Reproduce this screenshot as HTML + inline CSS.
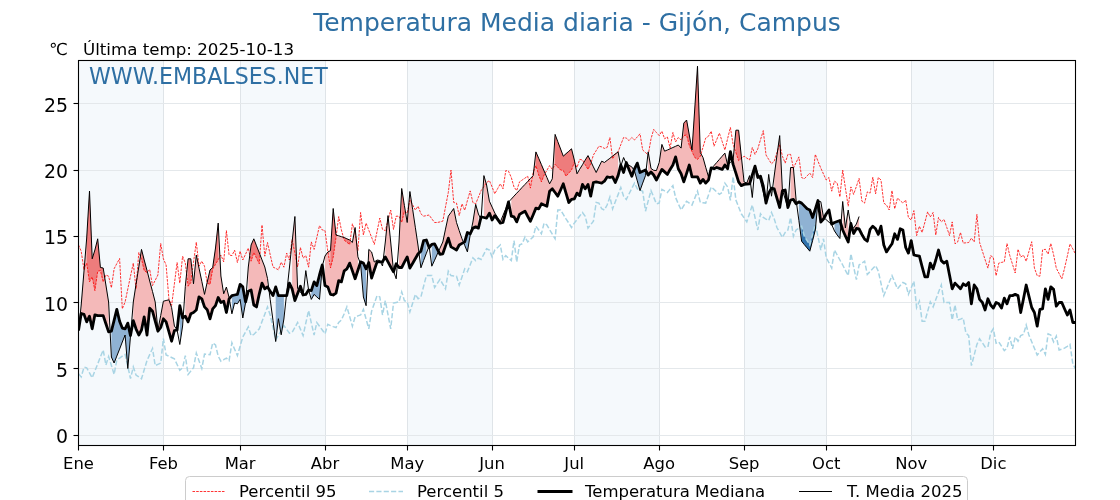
<!DOCTYPE html>
<html lang="es"><head><meta charset="utf-8"><title>Temperatura Media diaria - Gijón, Campus</title>
<style>html,body{margin:0;padding:0;background:#fff;overflow:hidden}body{width:1120px;height:500px}</style></head>
<body>
<svg width="1120" height="500" viewBox="0 0 1120 500" style="display:block;font-family:'DejaVu Sans','Liberation Sans',sans-serif">
<rect width="1120" height="500" fill="#fff"/>
<clipPath id="c"><rect x="78.5" y="60.5" width="997.0" height="385.0"/></clipPath>
<rect x="78.50" y="60.5" width="84.91" height="385.0" fill="#f5f9fc"/>
<rect x="240.10" y="60.5" width="84.91" height="385.0" fill="#f5f9fc"/>
<rect x="407.18" y="60.5" width="84.91" height="385.0" fill="#f5f9fc"/>
<rect x="574.26" y="60.5" width="84.91" height="385.0" fill="#f5f9fc"/>
<rect x="744.08" y="60.5" width="82.17" height="385.0" fill="#f5f9fc"/>
<rect x="911.16" y="60.5" width="82.17" height="385.0" fill="#f5f9fc"/>
<line x1="78.50" y1="60.5" x2="78.50" y2="445.5" stroke="#dfe4e8" stroke-width="1"/>
<line x1="163.50" y1="60.5" x2="163.50" y2="445.5" stroke="#dfe4e8" stroke-width="1"/>
<line x1="240.50" y1="60.5" x2="240.50" y2="445.5" stroke="#dfe4e8" stroke-width="1"/>
<line x1="325.50" y1="60.5" x2="325.50" y2="445.5" stroke="#dfe4e8" stroke-width="1"/>
<line x1="407.50" y1="60.5" x2="407.50" y2="445.5" stroke="#dfe4e8" stroke-width="1"/>
<line x1="492.50" y1="60.5" x2="492.50" y2="445.5" stroke="#dfe4e8" stroke-width="1"/>
<line x1="574.50" y1="60.5" x2="574.50" y2="445.5" stroke="#dfe4e8" stroke-width="1"/>
<line x1="659.50" y1="60.5" x2="659.50" y2="445.5" stroke="#dfe4e8" stroke-width="1"/>
<line x1="744.50" y1="60.5" x2="744.50" y2="445.5" stroke="#dfe4e8" stroke-width="1"/>
<line x1="826.50" y1="60.5" x2="826.50" y2="445.5" stroke="#dfe4e8" stroke-width="1"/>
<line x1="911.50" y1="60.5" x2="911.50" y2="445.5" stroke="#dfe4e8" stroke-width="1"/>
<line x1="993.50" y1="60.5" x2="993.50" y2="445.5" stroke="#dfe4e8" stroke-width="1"/>
<line x1="78.5" y1="435.50" x2="1075.5" y2="435.50" stroke="#e4e8eb" stroke-width="1"/>
<line x1="78.5" y1="368.50" x2="1075.5" y2="368.50" stroke="#e4e8eb" stroke-width="1"/>
<line x1="78.5" y1="302.50" x2="1075.5" y2="302.50" stroke="#e4e8eb" stroke-width="1"/>
<line x1="78.5" y1="236.50" x2="1075.5" y2="236.50" stroke="#e4e8eb" stroke-width="1"/>
<line x1="78.5" y1="170.50" x2="1075.5" y2="170.50" stroke="#e4e8eb" stroke-width="1"/>
<line x1="78.5" y1="103.50" x2="1075.5" y2="103.50" stroke="#e4e8eb" stroke-width="1"/>
<g clip-path="url(#c)">
<polygon points="81.2,305.0 84.0,271.0 86.7,238.0 89.5,191.0 92.2,258.8 94.9,250.0 97.7,238.8 100.4,267.5 103.2,268.0 105.9,285.0 108.6,302.0 108.6,331.9 105.9,323.8 103.2,315.6 100.4,315.6 97.7,315.6 94.9,314.8 92.2,328.8 89.5,316.2 86.7,321.9 84.0,314.4 81.2,313.5" fill="#f4b9b9"/>
<polygon points="133.3,302.0 136.0,284.5 138.8,266.9 141.5,249.4 144.2,259.9 147.0,270.4 149.7,281.0 152.5,291.5 155.2,302.0 157.9,330.0 160.7,315.6 163.4,301.2 166.1,300.5 168.9,299.8 171.6,307.5 174.4,326.0 174.4,330.6 171.6,341.2 168.9,331.6 166.1,321.9 163.4,318.8 160.7,327.5 157.9,331.2 155.2,321.2 152.5,311.2 149.7,308.1 147.0,335.0 144.2,316.9 141.5,330.0 138.8,335.0 136.0,328.8 133.3,320.6" fill="#f4b9b9"/>
<polygon points="185.3,286.5 188.1,258.8 190.8,258.8 193.5,283.8 196.3,255.0 199.0,268.1 201.8,281.3 204.5,294.4 207.2,282.2 210.0,270.0 212.7,267.5 215.5,248.0 218.2,223.1 220.9,276.0 223.7,293.8 226.4,287.0 229.1,297.5 229.1,298.8 226.4,312.5 223.7,301.2 220.9,302.5 218.2,297.5 215.5,305.6 212.7,308.8 210.0,318.8 207.2,309.7 204.5,306.9 201.8,298.8 199.0,296.9 196.3,310.0 193.5,312.5 190.8,313.8 188.1,321.9 185.3,316.2" fill="#f4b9b9"/>
<polygon points="248.3,267.0 251.1,245.0 253.8,238.8 256.5,245.8 259.3,252.9 262.0,259.9 264.8,267.0 267.5,278.5 267.5,286.9 264.8,288.8 262.0,283.1 259.3,293.8 256.5,306.9 253.8,305.0 251.1,290.0 248.3,291.2" fill="#f4b9b9"/>
<polygon points="292.1,242.0 294.9,216.5 297.6,288.5 297.6,293.4 294.9,300.6 292.1,288.8" fill="#f4b9b9"/>
<polygon points="325.0,256.0 327.8,252.0 330.5,250.6 333.2,208.5 336.0,235.0 338.7,235.8 341.4,236.7 344.2,237.5 346.9,238.8 349.7,240.0 352.4,242.5 355.1,227.5 357.9,256.8 357.9,270.3 355.1,278.8 352.4,270.9 349.7,263.1 346.9,268.8 344.2,270.9 341.4,281.9 338.7,280.6 336.0,293.1 333.2,295.0 330.5,294.4 327.8,286.9 325.0,285.6" fill="#f4b9b9"/>
<polygon points="368.8,249.4 371.6,252.0 374.3,262.0 377.1,260.0 379.8,260.5 379.8,261.9 377.1,261.9 374.3,270.0 371.6,278.1 368.8,262.5" fill="#f4b9b9"/>
<polygon points="385.3,242.0 388.0,215.6 390.7,242.0 393.5,271.0 393.5,271.9 390.7,266.9 388.0,261.9 385.3,256.9" fill="#f4b9b9"/>
<polygon points="399.0,242.0 401.7,188.5 404.4,205.5 407.2,222.5 409.9,191.5 412.7,209.7 415.4,227.8 418.1,246.0 418.1,253.8 415.4,258.5 412.7,263.3 409.9,268.1 407.2,256.9 404.4,262.2 401.7,267.5 399.0,267.5" fill="#f4b9b9"/>
<polygon points="440.0,248.1 442.8,242.0 445.5,229.1 448.3,216.2 451.0,212.4 453.7,208.5 456.5,222.5 459.2,230.6 462.0,238.8 462.0,243.4 459.2,245.0 456.5,250.0 453.7,248.4 451.0,246.9 448.3,238.1 445.5,245.9 442.8,253.8 440.0,254.4" fill="#f4b9b9"/>
<polygon points="472.9,222.0 475.7,204.4 478.4,214.0 478.4,228.1 475.7,226.9 472.9,228.1" fill="#f4b9b9"/>
<polygon points="483.9,175.6 486.6,185.0 489.4,201.2 492.1,207.1 494.8,213.0 497.6,217.5 500.3,222.0 503.0,215.3 505.8,208.7 505.8,212.2 503.0,222.5 500.3,223.1 497.6,219.4 494.8,215.6 492.1,220.0 489.4,213.1 486.6,218.1 483.9,217.5" fill="#f4b9b9"/>
<polygon points="511.3,199.1 514.0,196.1 516.7,193.2 519.5,190.3 522.2,187.3 525.0,184.4 527.7,181.5 530.4,178.5 533.2,175.6 535.9,151.9 538.7,158.3 541.4,164.6 544.1,171.0 546.9,177.4 549.6,183.8 552.3,178.8 555.1,134.4 557.8,141.7 560.6,149.0 563.3,156.2 566.0,153.7 568.8,151.3 571.5,148.8 574.3,160.0 577.0,173.8 579.7,169.2 582.5,164.7 585.2,160.1 588.0,155.6 590.7,161.2 593.4,166.9 596.2,172.5 598.9,166.9 601.7,161.2 604.4,162.5 607.1,160.4 609.9,158.3 612.6,156.1 615.3,154.0 618.1,151.9 618.1,175.6 615.3,182.5 612.6,176.9 609.9,177.5 607.1,176.9 604.4,181.2 601.7,183.1 598.9,182.5 596.2,181.9 593.4,182.5 590.7,196.2 588.0,184.4 585.2,188.8 582.5,184.4 579.7,195.6 577.0,193.1 574.3,198.8 571.5,199.4 568.8,202.5 566.0,193.1 563.3,183.8 560.6,190.0 557.8,196.2 555.1,192.5 552.3,188.8 549.6,191.2 546.9,206.2 544.1,205.0 541.4,203.8 538.7,208.8 535.9,208.1 533.2,214.7 530.4,221.2 527.7,216.3 525.0,211.2 522.2,212.8 519.5,214.4 516.7,221.9 514.0,216.9 511.3,216.2" fill="#f4b9b9"/>
<polygon points="629.0,165.3 631.8,166.9 631.8,176.2 629.0,169.4" fill="#f4b9b9"/>
<polygon points="648.2,151.9 651.0,168.5 653.7,170.3 656.4,170.6 659.2,162.5 661.9,144.4 664.6,151.2 667.4,150.0 670.1,148.8 672.9,147.5 675.6,146.3 678.3,145.0 681.1,148.1 683.8,123.1 686.6,120.0 689.3,135.0 692.0,150.0 694.8,108.0 697.5,66.2 700.3,152.5 703.0,157.5 705.7,167.2 708.5,176.9 708.5,180.0 705.7,183.1 703.0,179.4 700.3,183.1 697.5,176.9 694.8,176.9 692.0,176.9 689.3,165.0 686.6,173.4 683.8,181.9 681.1,173.8 678.3,168.8 675.6,156.9 672.9,165.0 670.1,169.4 667.4,174.4 664.6,171.9 661.9,169.4 659.2,174.7 656.4,180.0 653.7,175.0 651.0,172.0 648.2,175.0" fill="#f4b9b9"/>
<polygon points="714.0,165.6 716.7,162.5 719.4,159.4 722.2,156.2 724.9,153.1 727.6,165.0 727.6,168.8 724.9,165.0 722.2,169.4 719.4,168.4 716.7,167.5 714.0,168.8" fill="#f4b9b9"/>
<polygon points="733.1,160.0 735.9,130.2 738.6,130.2 741.3,156.1 744.1,182.0 746.8,183.0 749.6,175.6 749.6,183.8 746.8,184.1 744.1,184.4 741.3,185.6 738.6,181.9 735.9,173.1 733.1,164.4" fill="#f4b9b9"/>
<polygon points="755.0,166.0 757.8,173.5 757.8,177.5 755.0,166.2" fill="#f4b9b9"/>
<polygon points="774.2,176.0 776.9,155.8 779.7,135.6 782.4,190.0 782.4,190.6 779.7,207.5 776.9,198.1 774.2,188.8" fill="#f4b9b9"/>
<polygon points="790.6,167.5 793.4,167.5 796.1,200.0 796.1,203.8 793.4,199.4 790.6,200.0" fill="#f4b9b9"/>
<polygon points="820.8,201.7 823.5,217.3 823.5,219.0 820.8,222.0" fill="#f4b9b9"/>
<polygon points="842.7,201.5 845.4,228.0 848.2,210.0 848.2,242.0 845.4,236.0 842.7,230.0" fill="#f4b9b9"/>
<polygon points="853.6,228.0 856.4,224.0 859.1,216.5 859.1,229.0 856.4,228.5 853.6,233.5" fill="#f4b9b9"/>
<polygon points="111.4,357.0 114.1,363.0 116.8,356.1 119.6,349.1 122.3,342.0 125.1,335.0 127.8,368.5 130.5,336.0 130.5,335.6 127.8,323.1 125.1,328.8 122.3,328.1 119.6,321.2 116.8,309.4 114.1,320.3 111.4,331.2" fill="#8fb2d3"/>
<polygon points="179.8,344.5 182.6,326.0 182.6,318.0 179.8,305.6" fill="#8fb2d3"/>
<polygon points="231.9,313.8 234.6,303.0 237.4,303.8 240.1,299.4 242.8,318.0 245.6,302.5 245.6,301.9 242.8,286.9 240.1,284.4 237.4,294.4 234.6,295.0 231.9,295.6" fill="#8fb2d3"/>
<polygon points="275.7,341.5 278.4,318.7 281.2,334.8 283.9,319.0 283.9,295.6 281.2,295.6 278.4,295.6 275.7,286.9" fill="#8fb2d3"/>
<polygon points="300.4,292.0 303.1,295.6 303.1,295.0 300.4,286.2" fill="#8fb2d3"/>
<polygon points="311.3,299.4 314.1,294.4 316.8,296.9 319.5,299.4 322.3,266.0 322.3,265.0 319.5,275.0 316.8,285.6 314.1,281.9 311.3,290.6" fill="#8fb2d3"/>
<polygon points="360.6,264.0 363.4,297.0 366.1,305.7 366.1,268.8 363.4,263.1 360.6,261.9" fill="#8fb2d3"/>
<polygon points="420.9,267.8 423.6,260.5 426.4,253.2 426.4,240.0 423.6,240.6 420.9,251.2" fill="#8fb2d3"/>
<polygon points="431.8,266.2 434.6,260.2 437.3,254.1 437.3,249.1 434.6,243.8 431.8,244.4" fill="#8fb2d3"/>
<polygon points="464.7,245.3 467.4,251.9 470.2,235.0 470.2,233.8 467.4,232.5 464.7,241.9" fill="#8fb2d3"/>
<polygon points="634.5,171.2 637.3,180.9 640.0,190.6 642.7,183.1 645.5,175.6 645.5,170.0 642.7,171.3 640.0,172.5 637.3,163.1 634.5,168.8" fill="#8fb2d3"/>
<polygon points="760.5,181.0 763.3,192.4 766.0,203.8 766.0,203.1 763.3,186.2 760.5,176.2" fill="#8fb2d3"/>
<polygon points="785.2,199.0 787.9,208.0 787.9,207.5 785.2,190.0" fill="#8fb2d3"/>
<polygon points="798.9,220.6 801.6,241.2 804.3,244.6 807.1,247.9 809.8,251.2 812.6,240.6 815.3,230.0 818.0,201.2 818.0,200.5 815.3,209.1 812.6,217.5 809.8,210.0 807.1,208.8 804.3,205.9 801.6,203.1 798.9,201.9" fill="#8fb2d3"/>
<polygon points="834.5,231.0 837.2,235.0 839.9,238.5 839.9,220.5 837.2,221.5 834.5,222.5" fill="#8fb2d3"/>
<polygon points="86.7,238.0 89.5,191.0 92.2,258.8 94.9,250.0 97.7,238.8 100.4,267.5 103.2,268.0 103.2,281.9 100.4,270.6 97.7,271.2 94.9,290.6 92.2,276.9 89.5,281.9 86.7,263.1" fill="#ee7c7c"/>
<polygon points="141.5,249.4 144.2,259.9 147.0,270.4 147.0,272.5 144.2,270.6 141.5,258.8" fill="#ee7c7c"/>
<polygon points="188.1,258.8 190.8,258.8 190.8,282.5 188.1,286.2" fill="#ee7c7c"/>
<polygon points="207.2,282.2 210.0,270.0 212.7,267.5 215.5,248.0 218.2,223.1 218.2,259.7 215.5,264.3 212.7,269.0 210.0,284.4 207.2,283.1" fill="#ee7c7c"/>
<polygon points="251.1,245.0 253.8,238.8 256.5,245.8 259.3,252.9 259.3,263.8 256.5,258.1 253.8,252.5 251.1,261.2" fill="#ee7c7c"/>
<polygon points="330.5,250.6 333.2,208.5 336.0,235.0 336.0,237.5 333.2,257.2 330.5,267.9" fill="#ee7c7c"/>
<polygon points="344.2,237.5 346.9,238.8 349.7,240.0 349.7,244.5 346.9,242.3 344.2,240.1" fill="#ee7c7c"/>
<polygon points="401.7,188.5 404.4,205.5 404.4,211.2 401.7,222.5" fill="#ee7c7c"/>
<polygon points="535.9,151.9 538.7,158.3 541.4,164.6 544.1,171.0 544.1,175.0 541.4,181.9 538.7,175.0 535.9,165.6" fill="#ee7c7c"/>
<polygon points="555.1,134.4 557.8,141.7 560.6,149.0 563.3,156.2 566.0,153.7 568.8,151.3 571.5,148.8 574.3,160.0 574.3,162.5 571.5,170.0 568.8,173.1 566.0,176.2 563.3,170.6 560.6,170.0 557.8,167.2 555.1,164.4" fill="#ee7c7c"/>
<polygon points="585.2,160.1 588.0,155.6 590.7,161.2 590.7,163.8 588.0,169.4 585.2,164.7" fill="#ee7c7c"/>
<polygon points="683.8,123.1 686.6,120.0 689.3,135.0 692.0,150.0 694.8,108.0 697.5,66.2 700.3,152.5 700.3,156.2 697.5,159.4 694.8,157.5 692.0,151.6 689.3,145.6 686.6,135.0 683.8,135.6" fill="#ee7c7c"/>
<polygon points="735.9,130.2 738.6,130.2 741.3,156.1 741.3,158.4 738.6,160.6 735.9,152.5" fill="#ee7c7c"/>
<polygon points="801.6,241.2 804.3,244.6 807.1,247.9 809.8,251.2 812.6,240.6 815.3,230.0 815.3,223.8 812.6,234.4 809.8,245.0 807.1,240.6 804.3,236.2 801.6,226.2" fill="#2f72ad"/>

<polyline points="78.5,245.0 81.2,251.2 84.0,270.0 86.7,263.1 89.5,281.9 92.2,276.9 94.9,290.6 97.7,271.2 100.4,270.6 103.2,281.9 105.9,275.0 108.6,276.2 111.4,287.8 114.1,268.8 116.8,263.6 119.6,258.5 122.3,308.8 125.1,302.0 127.8,289.0 130.5,276.1 133.3,263.1 136.0,288.8 138.8,252.5 141.5,258.8 144.2,270.6 147.0,272.5 149.7,269.4 152.5,285.6 155.2,280.3 157.9,275.0 160.7,243.5 163.4,258.8 166.1,265.0 168.9,298.8 171.6,305.4 174.4,283.9 177.1,262.5 179.8,283.1 182.6,256.2 185.3,263.1 188.1,286.2 190.8,282.5 193.5,262.4 196.3,242.2 199.0,266.2 201.8,261.2 204.5,266.2 207.2,283.1 210.0,284.4 212.7,269.0 215.5,264.3 218.2,259.7 220.9,255.0 223.7,261.9 226.4,230.6 229.1,255.0 231.9,255.6 234.6,250.2 237.4,262.5 240.1,251.2 242.8,260.0 245.6,254.1 248.3,248.1 251.1,261.2 253.8,252.5 256.5,258.1 259.3,263.8 262.0,225.0 264.8,256.2 267.5,242.5 270.2,254.8 273.0,267.0 275.7,268.4 278.4,269.8 281.2,262.2 283.9,267.2 286.7,253.1 289.4,260.0 292.1,239.4 294.9,253.2 297.6,267.0 300.4,247.5 303.1,258.1 305.8,255.6 308.6,267.2 311.3,241.9 314.1,249.4 316.8,237.5 319.5,225.6 322.3,230.0 325.0,230.6 327.8,251.2 330.5,267.9 333.2,257.2 336.0,237.5 338.7,216.6 341.4,230.0 344.2,240.1 346.9,242.3 349.7,244.5 352.4,223.8 355.1,232.5 357.9,250.6 360.6,212.5 363.4,235.0 366.1,223.1 368.8,230.2 371.6,237.3 374.3,244.4 377.1,231.3 379.8,218.1 382.5,229.4 385.3,230.6 388.0,220.3 390.7,210.0 393.5,229.4 396.2,216.2 399.0,216.2 401.7,222.5 404.4,211.2 407.2,213.1 409.9,200.0 412.7,205.0 415.4,210.0 418.1,206.2 420.9,213.8 423.6,216.2 426.4,215.6 429.1,215.0 431.8,218.8 434.6,222.5 437.3,222.5 440.0,221.9 442.8,221.2 445.5,206.9 448.3,192.5 451.0,170.0 453.7,202.5 456.5,203.1 459.2,215.6 462.0,203.8 464.7,210.3 467.4,200.6 470.2,190.9 472.9,202.5 475.7,203.8 478.4,197.2 481.1,190.6 483.9,186.6 486.6,182.5 489.4,180.6 492.1,187.0 494.8,193.8 497.6,188.7 500.3,183.8 503.0,188.8 505.8,170.6 508.5,171.2 511.3,177.5 514.0,187.0 516.7,190.6 519.5,181.9 522.2,180.0 525.0,178.1 527.7,176.2 530.4,188.1 533.2,172.5 535.9,165.6 538.7,175.0 541.4,181.9 544.1,175.0 546.9,170.3 549.6,165.6 552.3,169.4 555.1,164.4 557.8,167.2 560.6,170.0 563.3,170.6 566.0,176.2 568.8,173.1 571.5,170.0 574.3,162.5 577.0,167.5 579.7,159.4 582.5,160.0 585.2,164.7 588.0,169.4 590.7,163.8 593.4,155.0 596.2,150.6 598.9,146.2 601.7,146.9 604.4,148.4 607.1,147.5 609.9,137.5 612.6,158.8 615.3,153.8 618.1,151.9 620.8,144.7 623.6,137.5 626.3,138.1 629.0,140.6 631.8,137.5 634.5,140.0 637.3,136.9 640.0,133.8 642.7,150.0 645.5,152.5 648.2,155.0 651.0,138.8 653.7,129.4 656.4,132.5 659.2,135.6 661.9,131.2 664.6,138.8 667.4,136.9 670.1,148.1 672.9,132.5 675.6,141.9 678.3,137.5 681.1,140.0 683.8,135.6 686.6,135.0 689.3,145.6 692.0,151.6 694.8,157.5 697.5,159.4 700.3,156.2 703.0,147.2 705.7,138.1 708.5,136.2 711.2,131.2 714.0,146.2 716.7,139.7 719.4,133.1 722.2,141.6 724.9,150.0 727.6,138.7 730.4,127.4 733.1,144.4 735.9,152.5 738.6,160.6 741.3,158.4 744.1,156.2 746.8,158.1 749.6,160.0 752.3,147.5 755.0,154.4 757.8,148.8 760.5,139.7 763.3,130.6 766.0,155.0 768.7,159.4 771.5,163.8 774.2,161.2 776.9,152.8 779.7,144.4 782.4,156.2 785.2,163.1 787.9,154.4 790.6,154.4 793.4,168.1 796.1,162.5 798.9,156.9 801.6,177.5 804.3,178.8 807.1,175.9 809.8,173.1 812.6,177.5 815.3,154.4 818.0,161.2 820.8,168.1 823.5,174.1 826.2,180.0 829.0,177.5 831.7,191.2 834.5,181.2 837.2,183.1 839.9,196.9 842.7,170.0 845.4,188.1 848.2,206.2 850.9,186.9 853.6,194.4 856.4,186.4 859.1,178.4 861.9,201.2 864.6,203.1 867.3,191.9 870.1,193.1 872.8,177.2 875.6,193.8 878.3,177.5 881.0,180.0 883.8,203.1 886.5,205.0 889.2,210.0 892.0,190.6 894.7,208.8 897.5,198.1 900.2,200.6 902.9,203.1 905.7,200.0 908.4,217.5 911.2,220.0 913.9,210.6 916.6,235.6 919.4,226.2 922.1,232.5 924.9,222.2 927.6,211.9 930.3,216.9 933.1,212.5 935.8,235.0 938.5,217.5 941.3,221.9 944.0,219.4 946.8,227.5 949.5,235.6 952.2,221.9 955.0,243.8 957.7,241.9 960.5,232.5 963.2,243.1 965.9,242.8 968.7,242.5 971.4,238.1 974.2,241.9 976.9,214.4 979.6,242.5 982.4,251.2 985.1,259.7 987.9,268.1 990.6,255.6 993.3,257.5 996.1,275.7 998.8,263.1 1001.5,262.4 1004.3,261.8 1007.0,243.5 1009.8,255.6 1012.5,264.3 1015.2,273.0 1018.0,249.3 1020.7,257.0 1023.5,255.2 1026.2,261.3 1028.9,251.5 1031.7,241.7 1034.4,268.0 1037.2,275.7 1039.9,276.2 1042.6,249.8 1045.4,249.3 1048.1,254.2 1050.8,243.5 1053.6,254.7 1056.3,268.2 1059.1,273.5 1061.8,278.9 1064.5,268.5 1067.3,256.2 1070.0,243.9 1072.8,248.9 1075.5,254.0" fill="none" stroke="#ff0000" stroke-width="0.8" stroke-dasharray="2.57,1.11"/>
<polyline points="78.5,373.8 81.2,376.9 84.0,367.2 86.7,367.8 89.5,372.8 92.2,377.8 94.9,370.9 97.7,364.0 100.4,357.0 103.2,350.0 105.9,365.0 108.6,356.5 111.4,365.4 114.1,374.4 116.8,360.0 119.6,358.1 122.3,356.2 125.1,354.4 127.8,366.4 130.5,378.5 133.3,366.9 136.0,375.0 138.8,376.9 141.5,378.8 144.2,369.7 147.0,360.6 149.7,354.6 152.5,348.5 155.2,365.6 157.9,364.4 160.7,363.1 163.4,338.5 166.1,355.0 168.9,356.2 171.6,357.5 174.4,358.8 177.1,364.5 179.8,370.2 182.6,367.8 185.3,355.6 188.1,374.4 190.8,371.1 193.5,367.8 196.3,353.1 199.0,360.8 201.8,368.5 204.5,354.1 207.2,354.4 210.0,354.7 212.7,343.1 215.5,345.0 218.2,356.2 220.9,361.2 223.7,359.7 226.4,358.1 229.1,360.6 231.9,342.8 234.6,349.2 237.4,355.6 240.1,346.2 242.8,336.9 245.6,331.9 248.3,326.9 251.1,335.6 253.8,334.4 256.5,331.6 259.3,328.8 262.0,321.5 264.8,314.2 267.5,306.9 270.2,315.0 273.0,327.5 275.7,340.0 278.4,335.2 281.2,330.4 283.9,325.6 286.7,329.4 289.4,333.1 292.1,332.5 294.9,327.5 297.6,322.5 300.4,329.1 303.1,335.6 305.8,323.1 308.6,310.6 311.3,322.8 314.1,335.0 316.8,322.5 319.5,326.2 322.3,330.0 325.0,333.8 327.8,324.4 330.5,325.6 333.2,326.6 336.0,327.5 338.7,322.5 341.4,320.0 344.2,313.8 346.9,306.9 349.7,316.6 352.4,326.2 355.1,316.9 357.9,315.9 360.6,315.0 363.4,309.4 366.1,319.1 368.8,328.8 371.6,311.2 374.3,303.4 377.1,295.6 379.8,296.9 382.5,315.0 385.3,300.6 388.0,314.7 390.7,328.8 393.5,303.1 396.2,302.5 399.0,301.9 401.7,291.9 404.4,300.6 407.2,301.9 409.9,311.9 412.7,303.1 415.4,294.4 418.1,298.8 420.9,297.0 423.6,286.3 426.4,275.6 429.1,275.6 431.8,275.6 434.6,287.5 437.3,283.4 440.0,279.4 442.8,284.1 445.5,288.8 448.3,271.2 451.0,275.6 453.7,275.9 456.5,276.2 459.2,285.0 462.0,276.9 464.7,268.8 467.4,271.6 470.2,264.7 472.9,257.8 475.7,260.6 478.4,258.1 481.1,259.4 483.9,254.1 486.6,248.8 489.4,250.0 492.1,256.9 494.8,250.0 497.6,247.5 500.3,245.0 503.0,259.4 505.8,255.6 508.5,258.1 511.3,260.6 514.0,240.6 516.7,261.9 519.5,245.0 522.2,243.8 525.0,236.9 527.7,241.9 530.4,239.4 533.2,236.9 535.9,226.2 538.7,230.0 541.4,233.8 544.1,223.1 546.9,225.0 549.6,229.6 552.3,234.2 555.1,238.8 557.8,210.0 560.6,210.0 563.3,214.4 566.0,218.8 568.8,223.1 571.5,227.5 574.3,223.1 577.0,219.6 579.7,216.0 582.5,212.5 585.2,216.2 588.0,228.1 590.7,224.7 593.4,221.2 596.2,202.5 598.9,203.1 601.7,208.8 604.4,210.0 607.1,205.0 609.9,196.9 612.6,208.8 615.3,201.7 618.1,194.6 620.8,187.5 623.6,196.2 626.3,199.4 629.0,194.0 631.8,188.5 634.5,183.1 637.3,188.8 640.0,190.0 642.7,191.2 645.5,211.2 648.2,200.9 651.0,190.6 653.7,197.2 656.4,203.8 659.2,203.1 661.9,189.4 664.6,190.9 667.4,192.5 670.1,189.1 672.9,185.6 675.6,197.5 678.3,203.8 681.1,210.0 683.8,205.6 686.6,201.2 689.3,203.1 692.0,205.0 694.8,198.1 697.5,191.2 700.3,202.5 703.0,202.8 705.7,203.1 708.5,195.0 711.2,186.9 714.0,189.4 716.7,191.9 719.4,194.4 722.2,192.5 724.9,183.1 727.6,186.9 730.4,200.3 733.1,176.6 735.9,200.0 738.6,206.9 741.3,213.8 744.1,217.8 746.8,221.9 749.6,213.4 752.3,205.0 755.0,217.5 757.8,230.0 760.5,213.8 763.3,217.5 766.0,219.1 768.7,220.6 771.5,212.5 774.2,218.8 776.9,227.5 779.7,232.5 782.4,237.5 785.2,232.5 787.9,230.0 790.6,217.5 793.4,236.2 796.1,230.0 798.9,228.1 801.6,226.2 804.3,236.2 807.1,240.6 809.8,245.0 812.6,234.4 815.3,223.8 818.0,236.9 820.8,250.0 823.5,238.8 826.2,257.5 829.0,262.8 831.7,268.1 834.5,250.0 837.2,255.0 839.9,260.0 842.7,265.0 845.4,270.3 848.2,275.6 850.9,253.8 853.6,266.7 856.4,279.7 859.1,265.0 861.9,263.1 864.6,261.2 867.3,274.4 870.1,271.5 872.8,268.5 875.6,265.6 878.3,271.2 881.0,283.4 883.8,295.6 886.5,289.0 889.2,282.3 892.0,275.6 894.7,282.2 897.5,288.8 900.2,285.6 902.9,282.5 905.7,283.8 908.4,294.4 911.2,287.8 913.9,281.2 916.6,307.5 919.4,301.2 922.1,321.2 924.9,321.2 927.6,311.6 930.3,301.9 933.1,306.9 935.8,299.6 938.5,292.3 941.3,285.0 944.0,302.5 946.8,302.5 949.5,302.5 952.2,320.0 955.0,305.0 957.7,320.0 960.5,319.1 963.2,318.1 965.9,333.1 968.7,335.6 971.4,365.6 974.2,355.0 976.9,344.4 979.6,338.8 982.4,342.8 985.1,346.9 987.9,346.9 990.6,333.1 993.3,328.8 996.1,343.1 998.8,341.9 1001.5,346.2 1004.3,350.6 1007.0,348.1 1009.8,336.9 1012.5,348.8 1015.2,336.9 1018.0,341.2 1020.7,335.6 1023.5,334.4 1026.2,325.0 1028.9,335.0 1031.7,341.7 1034.4,348.3 1037.2,355.0 1039.9,351.9 1042.6,348.8 1045.4,354.4 1048.1,333.8 1050.8,335.0 1053.6,341.9 1056.3,336.2 1059.1,350.0 1061.8,349.1 1064.5,348.1 1067.3,346.3 1070.0,344.4 1072.8,363.8 1075.5,368.8" fill="none" stroke="#a8d4e4" stroke-width="1.5" stroke-dasharray="5.14,2.22"/>
<polyline points="78.5,330.6 81.2,313.5 84.0,314.4 86.7,321.9 89.5,316.2 92.2,328.8 94.9,314.8 97.7,315.6 100.4,315.6 103.2,315.6 105.9,323.8 108.6,331.9 111.4,331.2 114.1,320.3 116.8,309.4 119.6,321.2 122.3,328.1 125.1,328.8 127.8,323.1 130.5,335.6 133.3,320.6 136.0,328.8 138.8,335.0 141.5,330.0 144.2,316.9 147.0,335.0 149.7,308.1 152.5,311.2 155.2,321.2 157.9,331.2 160.7,327.5 163.4,318.8 166.1,321.9 168.9,331.6 171.6,341.2 174.4,330.6 177.1,330.0 179.8,305.6 182.6,318.0 185.3,316.2 188.1,321.9 190.8,313.8 193.5,312.5 196.3,310.0 199.0,296.9 201.8,298.8 204.5,306.9 207.2,309.7 210.0,318.8 212.7,308.8 215.5,305.6 218.2,297.5 220.9,302.5 223.7,301.2 226.4,312.5 229.1,298.8 231.9,295.6 234.6,295.0 237.4,294.4 240.1,284.4 242.8,286.9 245.6,301.9 248.3,291.2 251.1,290.0 253.8,305.0 256.5,306.9 259.3,293.8 262.0,283.1 264.8,288.8 267.5,286.9 270.2,291.2 273.0,295.6 275.7,286.9 278.4,295.6 281.2,295.6 283.9,295.6 286.7,295.6 289.4,283.1 292.1,288.8 294.9,300.6 297.6,293.4 300.4,286.2 303.1,295.0 305.8,294.4 308.6,290.0 311.3,290.6 314.1,281.9 316.8,285.6 319.5,275.0 322.3,265.0 325.0,285.6 327.8,286.9 330.5,294.4 333.2,295.0 336.0,293.1 338.7,280.6 341.4,281.9 344.2,270.9 346.9,268.8 349.7,263.1 352.4,270.9 355.1,278.8 357.9,270.3 360.6,261.9 363.4,263.1 366.1,268.8 368.8,262.5 371.6,278.1 374.3,270.0 377.1,261.9 379.8,261.9 382.5,261.9 385.3,256.9 388.0,261.9 390.7,266.9 393.5,271.9 396.2,263.8 399.0,267.5 401.7,267.5 404.4,262.2 407.2,256.9 409.9,268.1 412.7,263.3 415.4,258.5 418.1,253.8 420.9,251.2 423.6,240.6 426.4,240.0 429.1,247.5 431.8,244.4 434.6,243.8 437.3,249.1 440.0,254.4 442.8,253.8 445.5,245.9 448.3,238.1 451.0,246.9 453.7,248.4 456.5,250.0 459.2,245.0 462.0,243.4 464.7,241.9 467.4,232.5 470.2,233.8 472.9,228.1 475.7,226.9 478.4,228.1 481.1,216.9 483.9,217.5 486.6,218.1 489.4,213.1 492.1,220.0 494.8,215.6 497.6,219.4 500.3,223.1 503.0,222.5 505.8,212.2 508.5,201.9 511.3,216.2 514.0,216.9 516.7,221.9 519.5,214.4 522.2,212.8 525.0,211.2 527.7,216.3 530.4,221.2 533.2,214.7 535.9,208.1 538.7,208.8 541.4,203.8 544.1,205.0 546.9,206.2 549.6,191.2 552.3,188.8 555.1,192.5 557.8,196.2 560.6,190.0 563.3,183.8 566.0,193.1 568.8,202.5 571.5,199.4 574.3,198.8 577.0,193.1 579.7,195.6 582.5,184.4 585.2,188.8 588.0,184.4 590.7,196.2 593.4,182.5 596.2,181.9 598.9,182.5 601.7,183.1 604.4,181.2 607.1,176.9 609.9,177.5 612.6,176.9 615.3,182.5 618.1,175.6 620.8,165.0 623.6,172.5 626.3,162.5 629.0,169.4 631.8,176.2 634.5,168.8 637.3,163.1 640.0,172.5 642.7,171.3 645.5,170.0 648.2,175.0 651.0,172.0 653.7,175.0 656.4,180.0 659.2,174.7 661.9,169.4 664.6,171.9 667.4,174.4 670.1,169.4 672.9,165.0 675.6,156.9 678.3,168.8 681.1,173.8 683.8,181.9 686.6,173.4 689.3,165.0 692.0,176.9 694.8,176.9 697.5,176.9 700.3,183.1 703.0,179.4 705.7,183.1 708.5,180.0 711.2,167.8 714.0,168.8 716.7,167.5 719.4,168.4 722.2,169.4 724.9,165.0 727.6,168.8 730.4,151.6 733.1,164.4 735.9,173.1 738.6,181.9 741.3,185.6 744.1,184.4 746.8,184.1 749.6,183.8 752.3,175.0 755.0,166.2 757.8,177.5 760.5,176.2 763.3,186.2 766.0,203.1 768.7,193.1 771.5,188.1 774.2,188.8 776.9,198.1 779.7,207.5 782.4,190.6 785.2,190.0 787.9,207.5 790.6,200.0 793.4,199.4 796.1,203.8 798.9,201.9 801.6,203.1 804.3,205.9 807.1,208.8 809.8,210.0 812.6,217.5 815.3,209.1 818.0,200.5 820.8,222.0 823.5,219.0 826.2,214.0 829.0,210.0 831.7,224.2 834.5,222.5 837.2,221.5 839.9,220.5 842.7,230.0 845.4,236.0 848.2,242.0 850.9,223.5 853.6,233.5 856.4,228.5 859.1,229.0 861.9,234.5 864.6,239.1 867.3,241.2 870.1,229.4 872.8,226.2 875.6,228.8 878.3,234.4 881.0,226.2 883.8,245.0 886.5,251.9 889.2,247.8 892.0,243.8 894.7,233.8 897.5,239.4 900.2,228.8 902.9,230.0 905.7,247.5 908.4,253.1 911.2,240.6 913.9,255.0 916.6,255.6 919.4,256.2 922.1,266.6 924.9,276.9 927.6,276.9 930.3,263.1 933.1,268.8 935.8,260.0 938.5,250.0 941.3,260.6 944.0,263.1 946.8,261.2 949.5,275.0 952.2,288.8 955.0,283.1 957.7,285.9 960.5,288.8 963.2,283.8 965.9,285.6 968.7,282.5 971.4,303.8 974.2,285.0 976.9,288.8 979.6,299.4 982.4,302.5 985.1,310.0 987.9,298.8 990.6,305.0 993.3,308.1 996.1,302.5 998.8,303.8 1001.5,308.1 1004.3,298.1 1007.0,303.8 1009.8,295.6 1012.5,295.6 1015.2,294.4 1018.0,295.6 1020.7,312.5 1023.5,298.7 1026.2,285.0 1028.9,296.2 1031.7,307.5 1034.4,312.5 1037.2,326.2 1039.9,309.4 1042.6,308.8 1045.4,288.8 1048.1,299.4 1050.8,286.9 1053.6,289.4 1056.3,306.2 1059.1,302.5 1061.8,302.5 1064.5,308.8 1067.3,315.0 1070.0,310.0 1072.8,322.5 1075.5,322.5" fill="none" stroke="#000" stroke-width="2.8" stroke-linejoin="round"/>
<polyline points="78.5,331.5 81.2,305.0 84.0,271.0 86.7,238.0 89.5,191.0 92.2,258.8 94.9,250.0 97.7,238.8 100.4,267.5 103.2,268.0 105.9,285.0 108.6,302.0 111.4,357.0 114.1,363.0 116.8,356.1 119.6,349.1 122.3,342.0 125.1,335.0 127.8,368.5 130.5,336.0 133.3,302.0 136.0,284.5 138.8,266.9 141.5,249.4 144.2,259.9 147.0,270.4 149.7,281.0 152.5,291.5 155.2,302.0 157.9,330.0 160.7,315.6 163.4,301.2 166.1,300.5 168.9,299.8 171.6,307.5 174.4,326.0 177.1,330.0 179.8,344.5 182.6,326.0 185.3,286.5 188.1,258.8 190.8,258.8 193.5,283.8 196.3,255.0 199.0,268.1 201.8,281.3 204.5,294.4 207.2,282.2 210.0,270.0 212.7,267.5 215.5,248.0 218.2,223.1 220.9,276.0 223.7,293.8 226.4,287.0 229.1,297.5 231.9,313.8 234.6,303.0 237.4,303.8 240.1,299.4 242.8,318.0 245.6,302.5 248.3,267.0 251.1,245.0 253.8,238.8 256.5,245.8 259.3,252.9 262.0,259.9 264.8,267.0 267.5,278.5 270.2,299.5 273.0,320.5 275.7,341.5 278.4,318.7 281.2,334.8 283.9,319.0 286.7,293.0 289.4,268.0 292.1,242.0 294.9,216.5 297.6,288.5 300.4,292.0 303.1,295.6 305.8,270.6 308.6,290.0 311.3,299.4 314.1,294.4 316.8,296.9 319.5,299.4 322.3,266.0 325.0,256.0 327.8,252.0 330.5,250.6 333.2,208.5 336.0,235.0 338.7,235.8 341.4,236.7 344.2,237.5 346.9,238.8 349.7,240.0 352.4,242.5 355.1,227.5 357.9,256.8 360.6,264.0 363.4,297.0 366.1,305.7 368.8,249.4 371.6,252.0 374.3,262.0 377.1,260.0 379.8,260.5 382.5,266.0 385.3,242.0 388.0,215.6 390.7,242.0 393.5,271.0 396.2,278.8 399.0,242.0 401.7,188.5 404.4,205.5 407.2,222.5 409.9,191.5 412.7,209.7 415.4,227.8 418.1,246.0 420.9,267.8 423.6,260.5 426.4,253.2 429.1,246.0 431.8,266.2 434.6,260.2 437.3,254.1 440.0,248.1 442.8,242.0 445.5,229.1 448.3,216.2 451.0,212.4 453.7,208.5 456.5,222.5 459.2,230.6 462.0,238.8 464.7,245.3 467.4,251.9 470.2,235.0 472.9,222.0 475.7,204.4 478.4,214.0 481.1,219.5 483.9,175.6 486.6,185.0 489.4,201.2 492.1,207.1 494.8,213.0 497.6,217.5 500.3,222.0 503.0,215.3 505.8,208.7 508.5,202.0 511.3,199.1 514.0,196.1 516.7,193.2 519.5,190.3 522.2,187.3 525.0,184.4 527.7,181.5 530.4,178.5 533.2,175.6 535.9,151.9 538.7,158.3 541.4,164.6 544.1,171.0 546.9,177.4 549.6,183.8 552.3,178.8 555.1,134.4 557.8,141.7 560.6,149.0 563.3,156.2 566.0,153.7 568.8,151.3 571.5,148.8 574.3,160.0 577.0,173.8 579.7,169.2 582.5,164.7 585.2,160.1 588.0,155.6 590.7,161.2 593.4,166.9 596.2,172.5 598.9,166.9 601.7,161.2 604.4,162.5 607.1,160.4 609.9,158.3 612.6,156.1 615.3,154.0 618.1,151.9 620.8,166.2 623.6,157.5 626.3,163.8 629.0,165.3 631.8,166.9 634.5,171.2 637.3,180.9 640.0,190.6 642.7,183.1 645.5,175.6 648.2,151.9 651.0,168.5 653.7,170.3 656.4,170.6 659.2,162.5 661.9,144.4 664.6,151.2 667.4,150.0 670.1,148.8 672.9,147.5 675.6,146.3 678.3,145.0 681.1,148.1 683.8,123.1 686.6,120.0 689.3,135.0 692.0,150.0 694.8,108.0 697.5,66.2 700.3,152.5 703.0,157.5 705.7,167.2 708.5,176.9 711.2,168.8 714.0,165.6 716.7,162.5 719.4,159.4 722.2,156.2 724.9,153.1 727.6,165.0 730.4,162.5 733.1,160.0 735.9,130.2 738.6,130.2 741.3,156.1 744.1,182.0 746.8,183.0 749.6,175.6 752.3,197.5 755.0,166.0 757.8,173.5 760.5,181.0 763.3,192.4 766.0,203.8 768.7,174.4 771.5,196.2 774.2,176.0 776.9,155.8 779.7,135.6 782.4,190.0 785.2,199.0 787.9,208.0 790.6,167.5 793.4,167.5 796.1,200.0 798.9,220.6 801.6,241.2 804.3,244.6 807.1,247.9 809.8,251.2 812.6,240.6 815.3,230.0 818.0,201.2 820.8,201.7 823.5,217.3 826.2,219.7 829.0,222.2 831.7,224.6 834.5,231.0 837.2,235.0 839.9,238.5 842.7,201.5 845.4,228.0 848.2,210.0 850.9,226.0 853.6,228.0 856.4,224.0 859.1,216.5" fill="none" stroke="#000" stroke-width="1.0" stroke-linejoin="miter"/>
</g>
<rect x="78.5" y="60.5" width="997.0" height="385.0" fill="none" stroke="#000" stroke-width="1.1"/>
<line x1="78.50" y1="445.5" x2="78.50" y2="450.5" stroke="#000" stroke-width="1.1"/>
<text x="78.50" y="468.8" font-size="16.4" text-anchor="middle" fill="#000">Ene</text>
<line x1="163.50" y1="445.5" x2="163.50" y2="450.5" stroke="#000" stroke-width="1.1"/>
<text x="163.41" y="468.8" font-size="16.4" text-anchor="middle" fill="#000">Feb</text>
<line x1="240.50" y1="445.5" x2="240.50" y2="450.5" stroke="#000" stroke-width="1.1"/>
<text x="240.10" y="468.8" font-size="16.4" text-anchor="middle" fill="#000">Mar</text>
<line x1="325.50" y1="445.5" x2="325.50" y2="450.5" stroke="#000" stroke-width="1.1"/>
<text x="325.01" y="468.8" font-size="16.4" text-anchor="middle" fill="#000">Abr</text>
<line x1="407.50" y1="445.5" x2="407.50" y2="450.5" stroke="#000" stroke-width="1.1"/>
<text x="407.18" y="468.8" font-size="16.4" text-anchor="middle" fill="#000">May</text>
<line x1="492.50" y1="445.5" x2="492.50" y2="450.5" stroke="#000" stroke-width="1.1"/>
<text x="492.09" y="468.8" font-size="16.4" text-anchor="middle" fill="#000">Jun</text>
<line x1="574.50" y1="445.5" x2="574.50" y2="450.5" stroke="#000" stroke-width="1.1"/>
<text x="574.26" y="468.8" font-size="16.4" text-anchor="middle" fill="#000">Jul</text>
<line x1="659.50" y1="445.5" x2="659.50" y2="450.5" stroke="#000" stroke-width="1.1"/>
<text x="659.17" y="468.8" font-size="16.4" text-anchor="middle" fill="#000">Ago</text>
<line x1="744.50" y1="445.5" x2="744.50" y2="450.5" stroke="#000" stroke-width="1.1"/>
<text x="744.08" y="468.8" font-size="16.4" text-anchor="middle" fill="#000">Sep</text>
<line x1="826.50" y1="445.5" x2="826.50" y2="450.5" stroke="#000" stroke-width="1.1"/>
<text x="826.25" y="468.8" font-size="16.4" text-anchor="middle" fill="#000">Oct</text>
<line x1="911.50" y1="445.5" x2="911.50" y2="450.5" stroke="#000" stroke-width="1.1"/>
<text x="911.16" y="468.8" font-size="16.4" text-anchor="middle" fill="#000">Nov</text>
<line x1="993.50" y1="445.5" x2="993.50" y2="450.5" stroke="#000" stroke-width="1.1"/>
<text x="993.33" y="468.8" font-size="16.4" text-anchor="middle" fill="#000">Dic</text>
<line x1="73.5" y1="435.50" x2="78.5" y2="435.50" stroke="#000" stroke-width="1.1"/>
<text x="68.1" y="443.25" font-size="18.9" text-anchor="end" fill="#000">0</text>
<line x1="73.5" y1="368.50" x2="78.5" y2="368.50" stroke="#000" stroke-width="1.1"/>
<text x="68.1" y="376.95" font-size="18.9" text-anchor="end" fill="#000">5</text>
<line x1="73.5" y1="302.50" x2="78.5" y2="302.50" stroke="#000" stroke-width="1.1"/>
<text x="68.1" y="310.65" font-size="18.9" text-anchor="end" fill="#000">10</text>
<line x1="73.5" y1="236.50" x2="78.5" y2="236.50" stroke="#000" stroke-width="1.1"/>
<text x="68.1" y="244.35" font-size="18.9" text-anchor="end" fill="#000">15</text>
<line x1="73.5" y1="170.50" x2="78.5" y2="170.50" stroke="#000" stroke-width="1.1"/>
<text x="68.1" y="178.05" font-size="18.9" text-anchor="end" fill="#000">20</text>
<line x1="73.5" y1="103.50" x2="78.5" y2="103.50" stroke="#000" stroke-width="1.1"/>
<text x="68.1" y="111.75" font-size="18.9" text-anchor="end" fill="#000">25</text>
<text x="577" y="31" font-size="25" text-anchor="middle" fill="#2e6fa3">Temperatura Media diaria - Gijón, Campus</text>
<text x="49" y="54.5" font-size="16.67" fill="#000">℃</text>
<text x="83" y="54.5" font-size="16.67" fill="#000">Última temp: 2025-10-13</text>
<text x="89" y="84" font-size="22.1" fill="#2e6fa3">WWW.EMBALSES.NET</text>
<rect x="185.5" y="476.5" width="782" height="40" rx="4" fill="#fff" fill-opacity="0.8" stroke="#ccc" stroke-width="1"/>
<line x1="192.5" y1="491.5" x2="224.5" y2="491.5" stroke="#ff0000" stroke-width="0.8" stroke-dasharray="2.57,1.11"/>
<text x="239" y="497.4" font-size="16.5" fill="#000">Percentil 95</text>
<line x1="369" y1="491.5" x2="403" y2="491.5" stroke="#a8d4e4" stroke-width="1.5" stroke-dasharray="5.14,2.22"/>
<text x="417" y="497.4" font-size="16.5" fill="#000">Percentil 5</text>
<line x1="537.5" y1="491.5" x2="572.5" y2="491.5" stroke="#000" stroke-width="2.8"/>
<text x="585" y="497.4" font-size="16.5" fill="#000">Temperatura Mediana</text>
<line x1="799" y1="491.5" x2="832" y2="491.5" stroke="#000" stroke-width="1"/>
<text x="847" y="497.4" font-size="16.5" fill="#000">T. Media 2025</text>
</svg>
</body></html>
